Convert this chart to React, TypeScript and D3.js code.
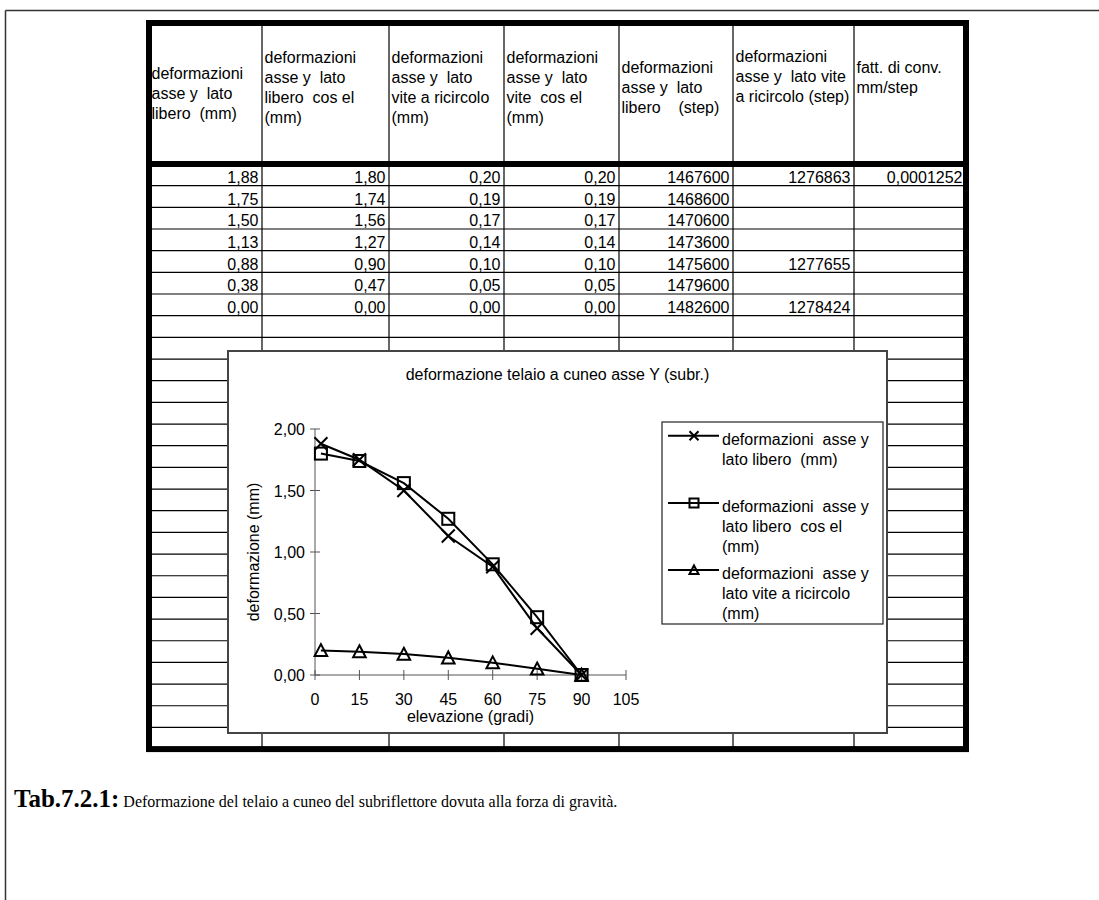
import React from 'react';
import * as d3 from 'd3';

// Elevation (degrees) at which each deformation was measured
const elevation = [2, 15, 30, 45, 60, 75, 90];
// Deformation values (mm)
const latoLibero = [1.88, 1.75, 1.5, 1.13, 0.88, 0.38, 0.0];
const latoLiberoCosEl = [1.8, 1.74, 1.56, 1.27, 0.9, 0.47, 0.0];
const latoVite = [0.2, 0.19, 0.17, 0.14, 0.1, 0.05, 0.0];
const latoViteCosEl = [0.2, 0.19, 0.17, 0.14, 0.1, 0.05, 0.0];
// Encoder readings (step)
const stepLibero = [1467600, 1468600, 1470600, 1473600, 1475600, 1479600, 1482600];
const stepVite: (number | null)[] = [1276863, null, null, null, 1277655, null, 1278424];
const convFactor: (number | null)[] = [0.0001252, null, null, null, null, null, null];

const headerLines: string[][] = [
  ['deformazioni', 'asse y  lato', 'libero  (mm)'],
  ['deformazioni', 'asse y  lato', 'libero  cos el', '(mm)'],
  ['deformazioni', 'asse y  lato', 'vite a ricircolo', '(mm)'],
  ['deformazioni', 'asse y  lato', 'vite  cos el', '(mm)'],
  ['deformazioni', 'asse y  lato', 'libero    (step)'],
  ['deformazioni', 'asse y  lato vite', 'a ricircolo (step)'],
  ['fatt. di conv.', 'mm/step'],
];

const chartTitle = 'deformazione telaio a cuneo asse Y (subr.)';
const xAxisTitle = 'elevazione (gradi)';
const yAxisTitle = 'deformazione (mm)';
const xTicks = [0, 15, 30, 45, 60, 75, 90, 105];
const yTicks = [0, 0.5, 1, 1.5, 2];

const legendLabels: string[][] = [
  ['deformazioni  asse y', 'lato libero  (mm)'],
  ['deformazioni  asse y', 'lato libero  cos el', '(mm)'],
  ['deformazioni  asse y', 'lato vite a ricircolo', '(mm)'],
];

const captionBold = 'Tab.7.2.1:';
const captionText = ' Deformazione del telaio a cuneo del subriflettore dovuta alla forza di gravità.';

// Italian number formatting (comma as decimal separator)
const it = d3.formatLocale({ decimal: ',', thousands: '.', grouping: [3], currency: ['', ' €'] });
const f2 = it.format('.2f');
const f7 = it.format('.7f');
const fInt = it.format('d');

const SANS = 'Liberation Sans, Arial, sans-serif';
const SERIF = 'Liberation Serif, Times New Roman, serif';

// Sheet grid geometry
const colEdges = [149, 262, 389, 504, 619, 733, 854, 966];
const sheetTop = 23;
const headerBottom = 164;
const rowPitch = 21.67;
const rowCount = 27;
const sheetBottom = headerBottom + rowPitch * rowCount;
const headerFirstBaseline = [79, 63, 63, 63, 73, 62, 73];
const headerLineHeight = 20;

// Embedded chart geometry
const chartBox = { x: 228, y: 351, w: 659, h: 382 };
const plot = { left: 315, right: 626, top: 429, bottom: 675 };
const legendBox = { x: 662, y: 422, w: 221, h: 202 };

type MarkerKind = 'x' | 'square' | 'triangle';

function Marker({ kind, cx, cy, s }: { kind: MarkerKind; cx: number; cy: number; s: number }) {
  const common = { fill: 'none', stroke: '#000', strokeWidth: 2 };
  if (kind === 'x') {
    return (
      <path
        d={`M${cx - s},${cy - s}L${cx + s},${cy + s}M${cx - s},${cy + s}L${cx + s},${cy - s}`}
        {...common}
      />
    );
  }
  if (kind === 'square') {
    return <rect x={cx - s} y={cy - s} width={2 * s} height={2 * s} {...common} />;
  }
  return (
    <path d={`M${cx},${cy - s}L${cx + s},${cy + s * 0.9}L${cx - s},${cy + s * 0.9}Z`} {...common} />
  );
}

export default function App() {
  const x = d3.scaleLinear().domain([0, 105]).range([plot.left, plot.right]);
  const y = d3.scaleLinear().domain([0, 2]).range([plot.bottom, plot.top]);

  const series: { values: number[]; kind: MarkerKind; size: number }[] = [
    { values: latoLibero, kind: 'x', size: 6.5 },
    { values: latoLiberoCosEl, kind: 'square', size: 6 },
    { values: latoVite, kind: 'triangle', size: 6.3 },
  ];

  const line = d3
    .line<[number, number]>()
    .x((d) => x(d[0]))
    .y((d) => y(d[1]));

  const tableCols: (string | null)[][] = [
    latoLibero.map(f2),
    latoLiberoCosEl.map(f2),
    latoVite.map(f2),
    latoViteCosEl.map(f2),
    stepLibero.map(fInt),
    stepVite.map((v) => (v == null ? null : fInt(v))),
    convFactor.map((v) => (v == null ? null : f7(v))),
  ];

  const rowLineYs = d3.range(1, rowCount).map((k) => headerBottom + k * rowPitch);
  const legendRowY = [435.7, 503, 570];

  return (
    <svg
      width={1099}
      height={900}
      style={{ position: 'absolute', left: 0, top: 0, background: '#fff' }}
      fontFamily={SANS}
    >
      {/* page frame */}
      <line x1={5.5} y1={10.5} x2={1099} y2={10.5} stroke="#333" strokeWidth={1.5} />
      <line x1={5.5} y1={10.5} x2={5.5} y2={900} stroke="#333" strokeWidth={1.5} />

      {/* sheet grid: row lines */}
      {rowLineYs.map((yy, i) => (
        <line key={`r${i}`} x1={colEdges[0]} x2={colEdges[7]} y1={yy} y2={yy} stroke="#000" strokeWidth={1.2} />
      ))}
      {/* sheet grid: column lines */}
      {colEdges.slice(1, -1).map((xx, i) => (
        <line key={`c${i}`} x1={xx} x2={xx} y1={sheetTop} y2={sheetBottom} stroke="#000" strokeWidth={1.2} />
      ))}

      {/* header text */}
      {headerLines.map((lines, ci) => (
        <text key={`h${ci}`} fontSize={16} fill="#000" style={{ whiteSpace: 'pre' }}>
          {lines.map((ln, li) => (
            <tspan key={li} x={colEdges[ci] + 2.5} y={headerFirstBaseline[ci] + li * headerLineHeight}>
              {ln}
            </tspan>
          ))}
        </text>
      ))}

      {/* data cells, right aligned */}
      {tableCols.map((col, ci) =>
        col.map((val, ri) =>
          val == null ? null : (
            <text
              key={`d${ci}-${ri}`}
              x={colEdges[ci + 1] - 3.5}
              y={headerBottom + (ri + 1) * rowPitch - 2.8}
              textAnchor="end"
              fontSize={16}
              fill="#000"
            >
              {val}
            </text>
          )
        )
      )}

      {/* thick outer border and header separator */}
      <rect
        x={colEdges[0]}
        y={sheetTop}
        width={colEdges[7] - colEdges[0]}
        height={sheetBottom - sheetTop}
        fill="none"
        stroke="#000"
        strokeWidth={6}
      />
      <line x1={colEdges[0]} x2={colEdges[7]} y1={headerBottom} y2={headerBottom} stroke="#000" strokeWidth={6} />

      {/* embedded chart */}
      <rect
        x={chartBox.x}
        y={chartBox.y}
        width={chartBox.w}
        height={chartBox.h}
        fill="#fff"
        stroke="#444"
        strokeWidth={2}
      />
      <text x={chartBox.x + chartBox.w / 2} y={380} textAnchor="middle" fontSize={16} fill="#000">
        {chartTitle}
      </text>

      {/* axes */}
      <line x1={plot.left} x2={plot.left} y1={y(2)} y2={y(0)} stroke="#555" strokeWidth={1} />
      <line x1={plot.left} x2={x(105)} y1={y(0)} y2={y(0)} stroke="#555" strokeWidth={1} />
      {yTicks.map((t) => (
        <g key={`yt${t}`}>
          <line x1={plot.left - 5} x2={plot.left + 5} y1={y(t)} y2={y(t)} stroke="#555" strokeWidth={1} />
          <text x={plot.left - 10} y={y(t) + 6} textAnchor="end" fontSize={16} fill="#000">
            {f2(t)}
          </text>
        </g>
      ))}
      {xTicks.map((t) => (
        <g key={`xt${t}`}>
          <line x1={x(t)} x2={x(t)} y1={y(0) - 5} y2={y(0) + 5} stroke="#555" strokeWidth={1} />
          <text x={x(t)} y={705} textAnchor="middle" fontSize={16} fill="#000">
            {t}
          </text>
        </g>
      ))}
      <text x={(plot.left + plot.right) / 2} y={722} textAnchor="middle" fontSize={16} fill="#000">
        {xAxisTitle}
      </text>
      <text
        transform={`translate(259,${(plot.top + plot.bottom) / 2}) rotate(-90)`}
        textAnchor="middle"
        fontSize={16}
        fill="#000"
      >
        {yAxisTitle}
      </text>

      {/* series lines and markers */}
      {series.map((s, si) => {
        const pts = elevation.map((e, i) => [e, s.values[i]] as [number, number]);
        return (
          <g key={`s${si}`}>
            <path d={line(pts) || ''} fill="none" stroke="#000" strokeWidth={2} />
            {pts.map((p, i) => (
              <Marker key={i} kind={s.kind} cx={x(p[0])} cy={y(p[1])} s={s.size} />
            ))}
          </g>
        );
      })}

      {/* legend */}
      <rect
        x={legendBox.x}
        y={legendBox.y}
        width={legendBox.w}
        height={legendBox.h}
        fill="#fff"
        stroke="#222"
        strokeWidth={1.2}
      />
      {series.map((s, si) => {
        const ly = legendRowY[si];
        return (
          <g key={`lg${si}`}>
            <line x1={668} x2={719} y1={ly} y2={ly} stroke="#000" strokeWidth={2} />
            <Marker kind={s.kind} cx={694} cy={ly} s={4.5} />
            <text fontSize={16} fill="#000" style={{ whiteSpace: 'pre' }}>
              {legendLabels[si].map((ln, li) => (
                <tspan key={li} x={722} y={ly + 9.3 + li * 19.7}>
                  {ln}
                </tspan>
              ))}
            </text>
          </g>
        );
      })}

      {/* caption */}
      <text x={14} y={807} fill="#000" fontFamily={SERIF} style={{ whiteSpace: 'pre' }}>
        <tspan fontWeight="bold" fontSize={25}>
          {captionBold}
        </tspan>
        <tspan fontSize={16}>{captionText}</tspan>
      </text>
    </svg>
  );
}
